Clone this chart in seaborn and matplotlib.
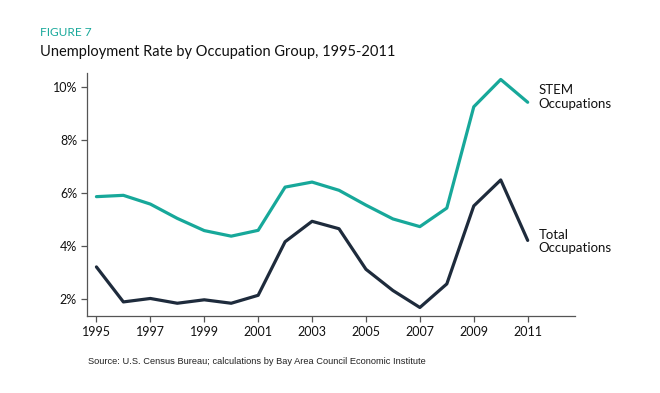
import pandas as pd
import matplotlib.pyplot as plt
import seaborn as sns

sns.set_style("ticks")
plt.rcParams['font.family'] = ['Lato', 'DejaVu Sans']

# data (percent)
years = list(range(1995, 2012))
stem = [5.86, 5.91, 5.58, 5.04, 4.58, 4.37, 4.59, 6.22, 6.41, 6.10,
        5.54, 5.02, 4.73, 5.43, 9.25, 10.28, 9.42]
total = [3.21, 1.89, 2.02, 1.84, 1.97, 1.84, 2.14, 4.16, 4.93, 4.65,
         3.12, 2.32, 1.68, 2.57, 5.51, 6.49, 4.21]
series_names = ["STEM\nOccupations", "Total\nOccupations"]
x_ticks = list(range(1995, 2012, 2))
y_ticks = [2, 4, 6, 8, 10]

teal = "#17a89a"
navy = "#1e2b3c"

df = pd.DataFrame({
    "year": years * 2,
    "rate": stem + total,
    "group": [series_names[0]] * len(years) + [series_names[1]] * len(years),
})

fig = plt.figure(figsize=(6.6, 3.93), dpi=100)
ax = fig.add_axes([0.1314, 0.196, 0.7396, 0.618])

sns.lineplot(data=df, x="year", y="rate", hue="group",
             palette=[teal, navy], linewidth=2.3, legend=False, ax=ax)

ax.set_xlim(1994.64, 2012.75)
ax.set_ylim(1.36, 10.52)
ax.set_xticks(x_ticks)
ax.set_xticklabels([str(y) for y in x_ticks])
ax.set_yticks(y_ticks)
ax.set_yticklabels([f"{v}%" for v in y_ticks])
ax.set_xlabel("")
ax.set_ylabel("")
ax.tick_params(labelsize=9, length=4, width=0.9, color="#555555",
               labelcolor="#111111", pad=3)
for s in ["left", "bottom"]:
    ax.spines[s].set_color("#555555")
    ax.spines[s].set_linewidth(0.9)
sns.despine(ax=ax)

# line labels at the end of each series
ax.text(years[-1] + 0.4, stem[-1] + 0.2, series_names[0], fontsize=9.5,
        color="#111111", va="center", ha="left", linespacing=1.15)
ax.text(years[-1] + 0.4, total[-1] - 0.05, series_names[1], fontsize=9.5,
        color="#111111", va="center", ha="left", linespacing=1.15)

fig.text(40 / 660, 1 - 36 / 393, "FIGURE 7", fontsize=8.6, color=teal,
         va="baseline", ha="left")
fig.text(40 / 660, 1 - 56 / 393, "Unemployment Rate by Occupation Group, 1995-2011",
         fontsize=10.5, color="#111111", va="baseline", ha="left")
fig.text(88 / 660, 1 - 364 / 393,
         "Source: U.S. Census Bureau; calculations by Bay Area Council Economic Institute",
         fontsize=6.7, color="#222222", family=["Liberation Sans", "DejaVu Sans"],
         va="baseline", ha="left")

fig.savefig("out.png", dpi=100)
